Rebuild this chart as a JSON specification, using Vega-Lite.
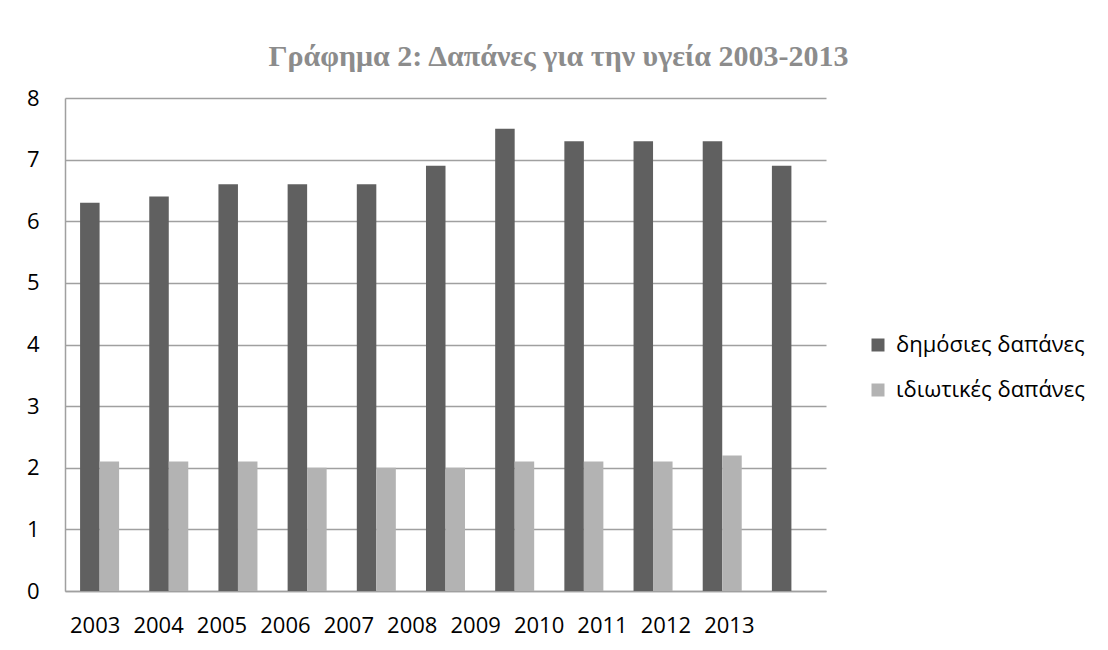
{
  "$schema": "https://vega.github.io/schema/vega-lite/v6.json",
  "width": 761,
  "height": 493,
  "autosize": {"type": "none"},
  "padding": {"left": 65, "top": 98, "right": 282, "bottom": 59},
  "background": "white",
  "title": {
    "text": "Γράφημα 2: Δαπάνες για την υγεία 2003-2013",
    "font": "Liberation Serif",
    "fontSize": 30,
    "fontWeight": "bold",
    "color": "#8c8c8c",
    "anchor": "middle",
    "dx": 113,
    "offset": 15
  },
  "data": {
    "values": [
      {"year": "2003", "series": "δημόσιες δαπάνες", "value": 6.3},
      {"year": "2004", "series": "δημόσιες δαπάνες", "value": 6.4},
      {"year": "2005", "series": "δημόσιες δαπάνες", "value": 6.6},
      {"year": "2006", "series": "δημόσιες δαπάνες", "value": 6.6},
      {"year": "2007", "series": "δημόσιες δαπάνες", "value": 6.6},
      {"year": "2008", "series": "δημόσιες δαπάνες", "value": 6.9},
      {"year": "2009", "series": "δημόσιες δαπάνες", "value": 7.5},
      {"year": "2010", "series": "δημόσιες δαπάνες", "value": 7.3},
      {"year": "2011", "series": "δημόσιες δαπάνες", "value": 7.3},
      {"year": "2012", "series": "δημόσιες δαπάνες", "value": 7.3},
      {"year": "2013", "series": "δημόσιες δαπάνες", "value": 6.9},
      {"year": "2003", "series": "ιδιωτικές δαπάνες", "value": 2.1},
      {"year": "2004", "series": "ιδιωτικές δαπάνες", "value": 2.1},
      {"year": "2005", "series": "ιδιωτικές δαπάνες", "value": 2.1},
      {"year": "2006", "series": "ιδιωτικές δαπάνες", "value": 2.0},
      {"year": "2007", "series": "ιδιωτικές δαπάνες", "value": 2.0},
      {"year": "2008", "series": "ιδιωτικές δαπάνες", "value": 2.0},
      {"year": "2009", "series": "ιδιωτικές δαπάνες", "value": 2.1},
      {"year": "2010", "series": "ιδιωτικές δαπάνες", "value": 2.1},
      {"year": "2011", "series": "ιδιωτικές δαπάνες", "value": 2.1},
      {"year": "2012", "series": "ιδιωτικές δαπάνες", "value": 2.2}
    ]
  },
  "layer": [
    {
      "mark": {"type": "bar"},
      "encoding": {
        "x": {
          "field": "year",
          "type": "nominal",
          "scale": {"paddingInner": 0.436, "paddingOuter": 0.218},
          "axis": {
            "orient": "bottom",
            "labels": false,
            "ticks": false,
            "domain": true,
            "domainColor": "#a0a0a0",
            "domainWidth": 1.5,
            "grid": false,
            "title": null
          }
        },
        "xOffset": {
          "field": "series",
          "type": "nominal",
          "sort": ["δημόσιες δαπάνες", "ιδιωτικές δαπάνες"]
        },
        "y": {
          "field": "value",
          "type": "quantitative",
          "scale": {"domain": [0, 8], "nice": false},
          "axis": {
            "values": [0, 1, 2, 3, 4, 5, 6, 7, 8],
            "grid": true,
            "gridColor": "#a0a0a0",
            "gridWidth": 1.5,
            "domain": true,
            "domainColor": "#a0a0a0",
            "domainWidth": 1.5,
            "ticks": false,
            "labelPadding": 26,
            "labelFont": "Open Sans",
            "labelFontSize": 22,
            "labelColor": "#000000",
            "title": null
          }
        },
        "color": {
          "field": "series",
          "type": "nominal",
          "scale": {
            "domain": ["δημόσιες δαπάνες", "ιδιωτικές δαπάνες"],
            "range": ["#606060", "#b3b3b3"]
          },
          "legend": {
            "orient": "none",
            "legendX": 802,
            "legendY": 236,
            "title": null,
            "symbolType": "square",
            "symbolSize": 169,
            "symbolStrokeWidth": 0,
            "labelFont": "Open Sans",
            "labelFontSize": 22,
            "labelColor": "#000000",
            "labelOffset": 7,
            "labelLimit": 400,
            "rowPadding": 23
          }
        }
      }
    },
    {
      "mark": {"type": "text", "opacity": 0},
      "encoding": {
        "x": {
          "field": "year",
          "type": "ordinal",
          "scale": {"type": "point", "padding": 1.18, "align": 0.234},
          "axis": {
            "orient": "bottom",
            "domain": false,
            "ticks": false,
            "grid": false,
            "labelAngle": 0,
            "labelPadding": 24,
            "labelFont": "Open Sans",
            "labelFontSize": 22,
            "labelColor": "#000000",
            "title": null
          }
        },
        "text": {"value": ""}
      }
    }
  ],
  "resolve": {"scale": {"x": "independent"}},
  "config": {"view": {"stroke": null}}
}
